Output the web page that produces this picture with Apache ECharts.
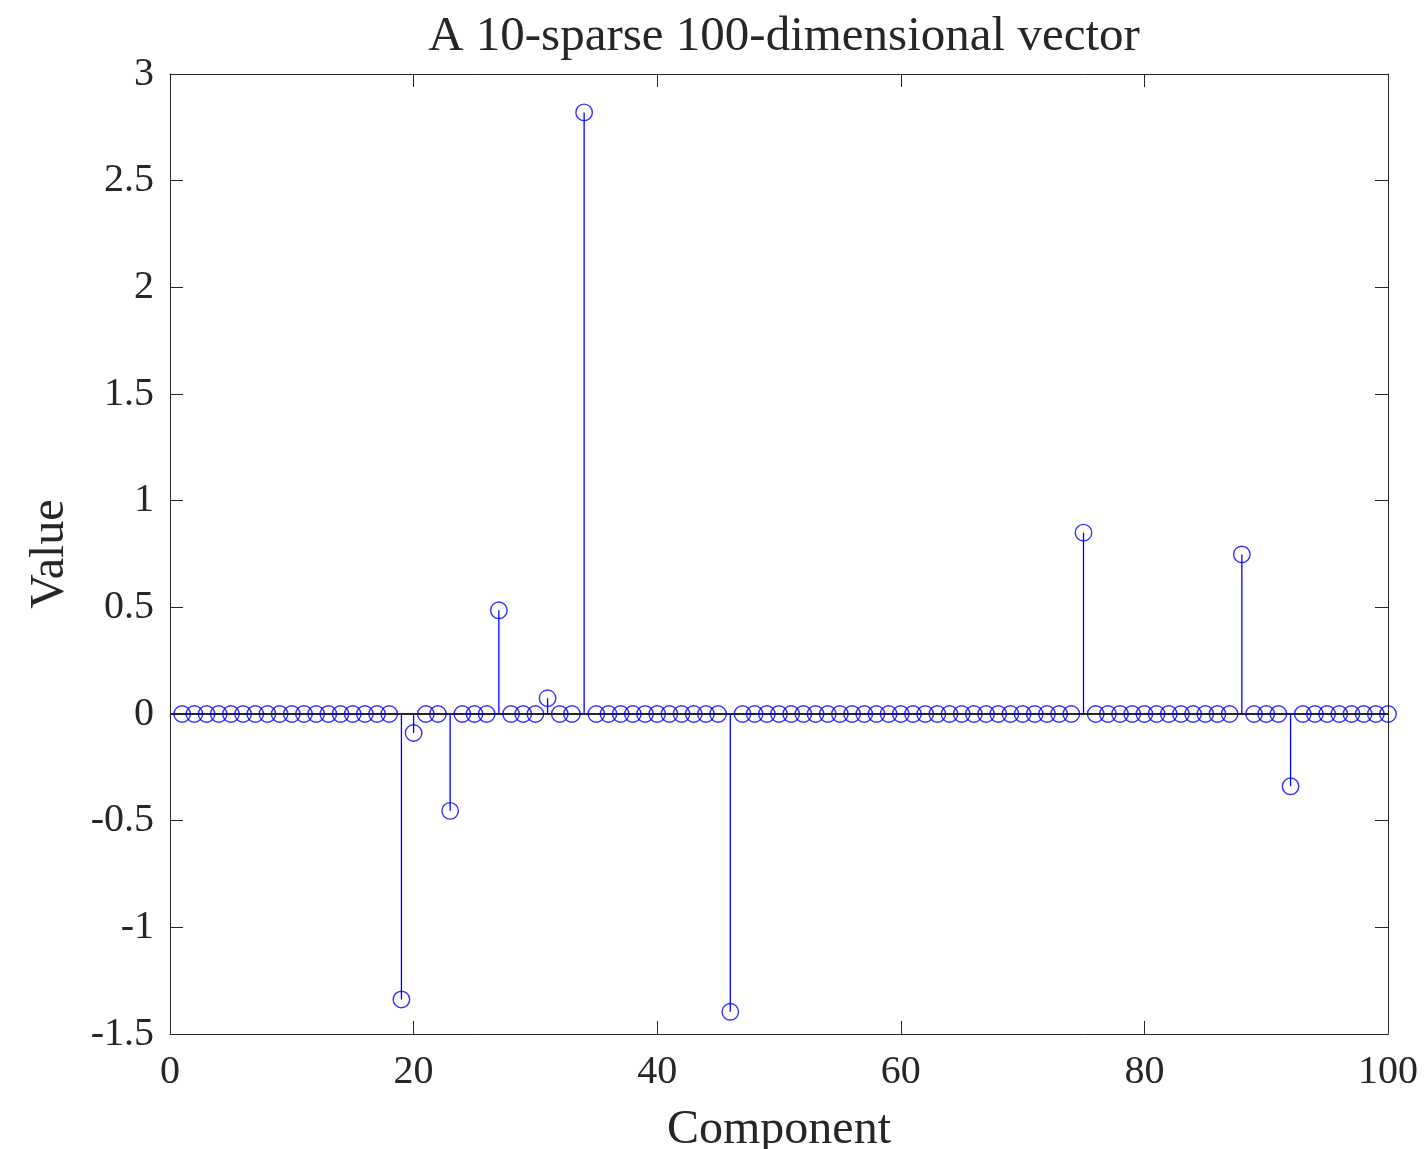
<!DOCTYPE html>
<html><head><meta charset="utf-8">
<script src="https://cdn.jsdelivr.net/npm/echarts@6/dist/echarts.min.js"></script>
<style>html,body{margin:0;padding:0;background:#fff}#c{width:1424px;height:1149px}</style>
</head><body><div id="c"></div>
<script>
const components = [
  1,2,3,4,5,6,7,8,9,10,
  11,12,13,14,15,16,17,18,19,20,
  21,22,23,24,25,26,27,28,29,30,
  31,32,33,34,35,36,37,38,39,40,
  41,42,43,44,45,46,47,48,49,50,
  51,52,53,54,55,56,57,58,59,60,
  61,62,63,64,65,66,67,68,69,70,
  71,72,73,74,75,76,77,78,79,80,
  81,82,83,84,85,86,87,88,89,90,
  91,92,93,94,95,96,97,98,99,100
];
const values = [
  0,0,0,0,0,0,0,0,0,0,
  0,0,0,0,0,0,0,0,-1.338,-0.089,
  0,0,-0.454,0,0,0,0.486,0,0,0,
  0.074,0,0,2.820,0,0,0,0,0,0,
  0,0,0,0,0,-1.396,0,0,0,0,
  0,0,0,0,0,0,0,0,0,0,
  0,0,0,0,0,0,0,0,0,0,
  0,0,0,0,0.850,0,0,0,0,0,
  0,0,0,0,0,0,0,0.748,0,0,
  0,-0.339,0,0,0,0,0,0,0,0
];
const xTicks = {min: 0, max: 100, interval: 20};
const yTicks = {min: -1.5, max: 3, interval: 0.5};
const baselineValue = 0;

const FONT = '"Liberation Serif", "DejaVu Serif", serif';
const INK = '#262626';
const BLUE = '#0000ff';

const points = components.map((c, i) => [c, values[i]]);

const chart = echarts.init(document.getElementById('c'), null, {renderer: 'canvas'});

function axisCommon(extra) {
  return Object.assign({
    type: 'value',
    splitLine: {show: false},
    axisLine: {show: true, onZero: false, lineStyle: {color: INK, width: 1}},
    axisTick: {show: true, inside: true, length: 13, lineStyle: {color: INK, width: 1}},
  }, extra);
}

chart.setOption({
  animation: false,
  backgroundColor: '#fff',
  title: {
    text: 'A 10-sparse 100-dimensional vector',
    left: 779, textAlign: 'center', top: 8,
    textStyle: {fontFamily: FONT, fontSize: 49, fontWeight: 'normal', color: INK}
  },
  grid: {left: 170, right: 36, top: 74, bottom: 115, containLabel: false, outerBoundsMode: 'none'},
  xAxis: [
    axisCommon({
      position: 'bottom', min: xTicks.min, max: xTicks.max, interval: xTicks.interval,
      axisLabel: {fontFamily: FONT, fontSize: 40, color: INK, margin: 18},
      name: 'Component', nameLocation: 'middle', nameGap: 72,
      nameTextStyle: {fontFamily: FONT, fontSize: 48, color: INK}
    }),
    axisCommon({
      position: 'top', min: xTicks.min, max: xTicks.max, interval: xTicks.interval,
      axisLabel: {show: false}
    })
  ],
  yAxis: [
    axisCommon({
      position: 'left', min: yTicks.min, max: yTicks.max, interval: yTicks.interval,
      axisLabel: {fontFamily: FONT, fontSize: 40, color: INK, margin: 16},
      name: 'Value', nameLocation: 'middle', nameGap: 96,
      nameTextStyle: {fontFamily: FONT, fontSize: 48, color: INK}
    }),
    axisCommon({
      position: 'right', min: yTicks.min, max: yTicks.max, interval: yTicks.interval,
      axisLabel: {show: false}
    })
  ],
  series: [
    {
      type: 'custom',
      xAxisIndex: 0, yAxisIndex: 0,
      data: points,
      z: 3,
      renderItem: function (params, api) {
        const x = api.value(0), v = api.value(1);
        const p0 = api.coord([x, baselineValue]);
        const p1 = api.coord([x, v]);
        return {
          type: 'line',
          shape: {x1: p0[0], y1: p0[1], x2: p1[0], y2: p1[1]},
          style: {stroke: BLUE, lineWidth: 1.3}
        };
      }
    },
    {
      type: 'scatter',
      xAxisIndex: 0, yAxisIndex: 0,
      data: points,
      symbol: 'circle',
      symbolSize: 16.5,
      clip: false,
      z: 4,
      itemStyle: {color: 'rgba(0,0,0,0)', borderColor: BLUE, borderWidth: 1.4},
      emphasis: {disabled: true},
      markLine: {
        silent: true,
        symbol: ['none', 'none'],
        label: {show: false},
        z: 2,
        lineStyle: {color: INK, width: 1.8, type: 'solid'},
        data: [{yAxis: baselineValue}]
      }
    }
  ]
});
</script>
</body></html>
